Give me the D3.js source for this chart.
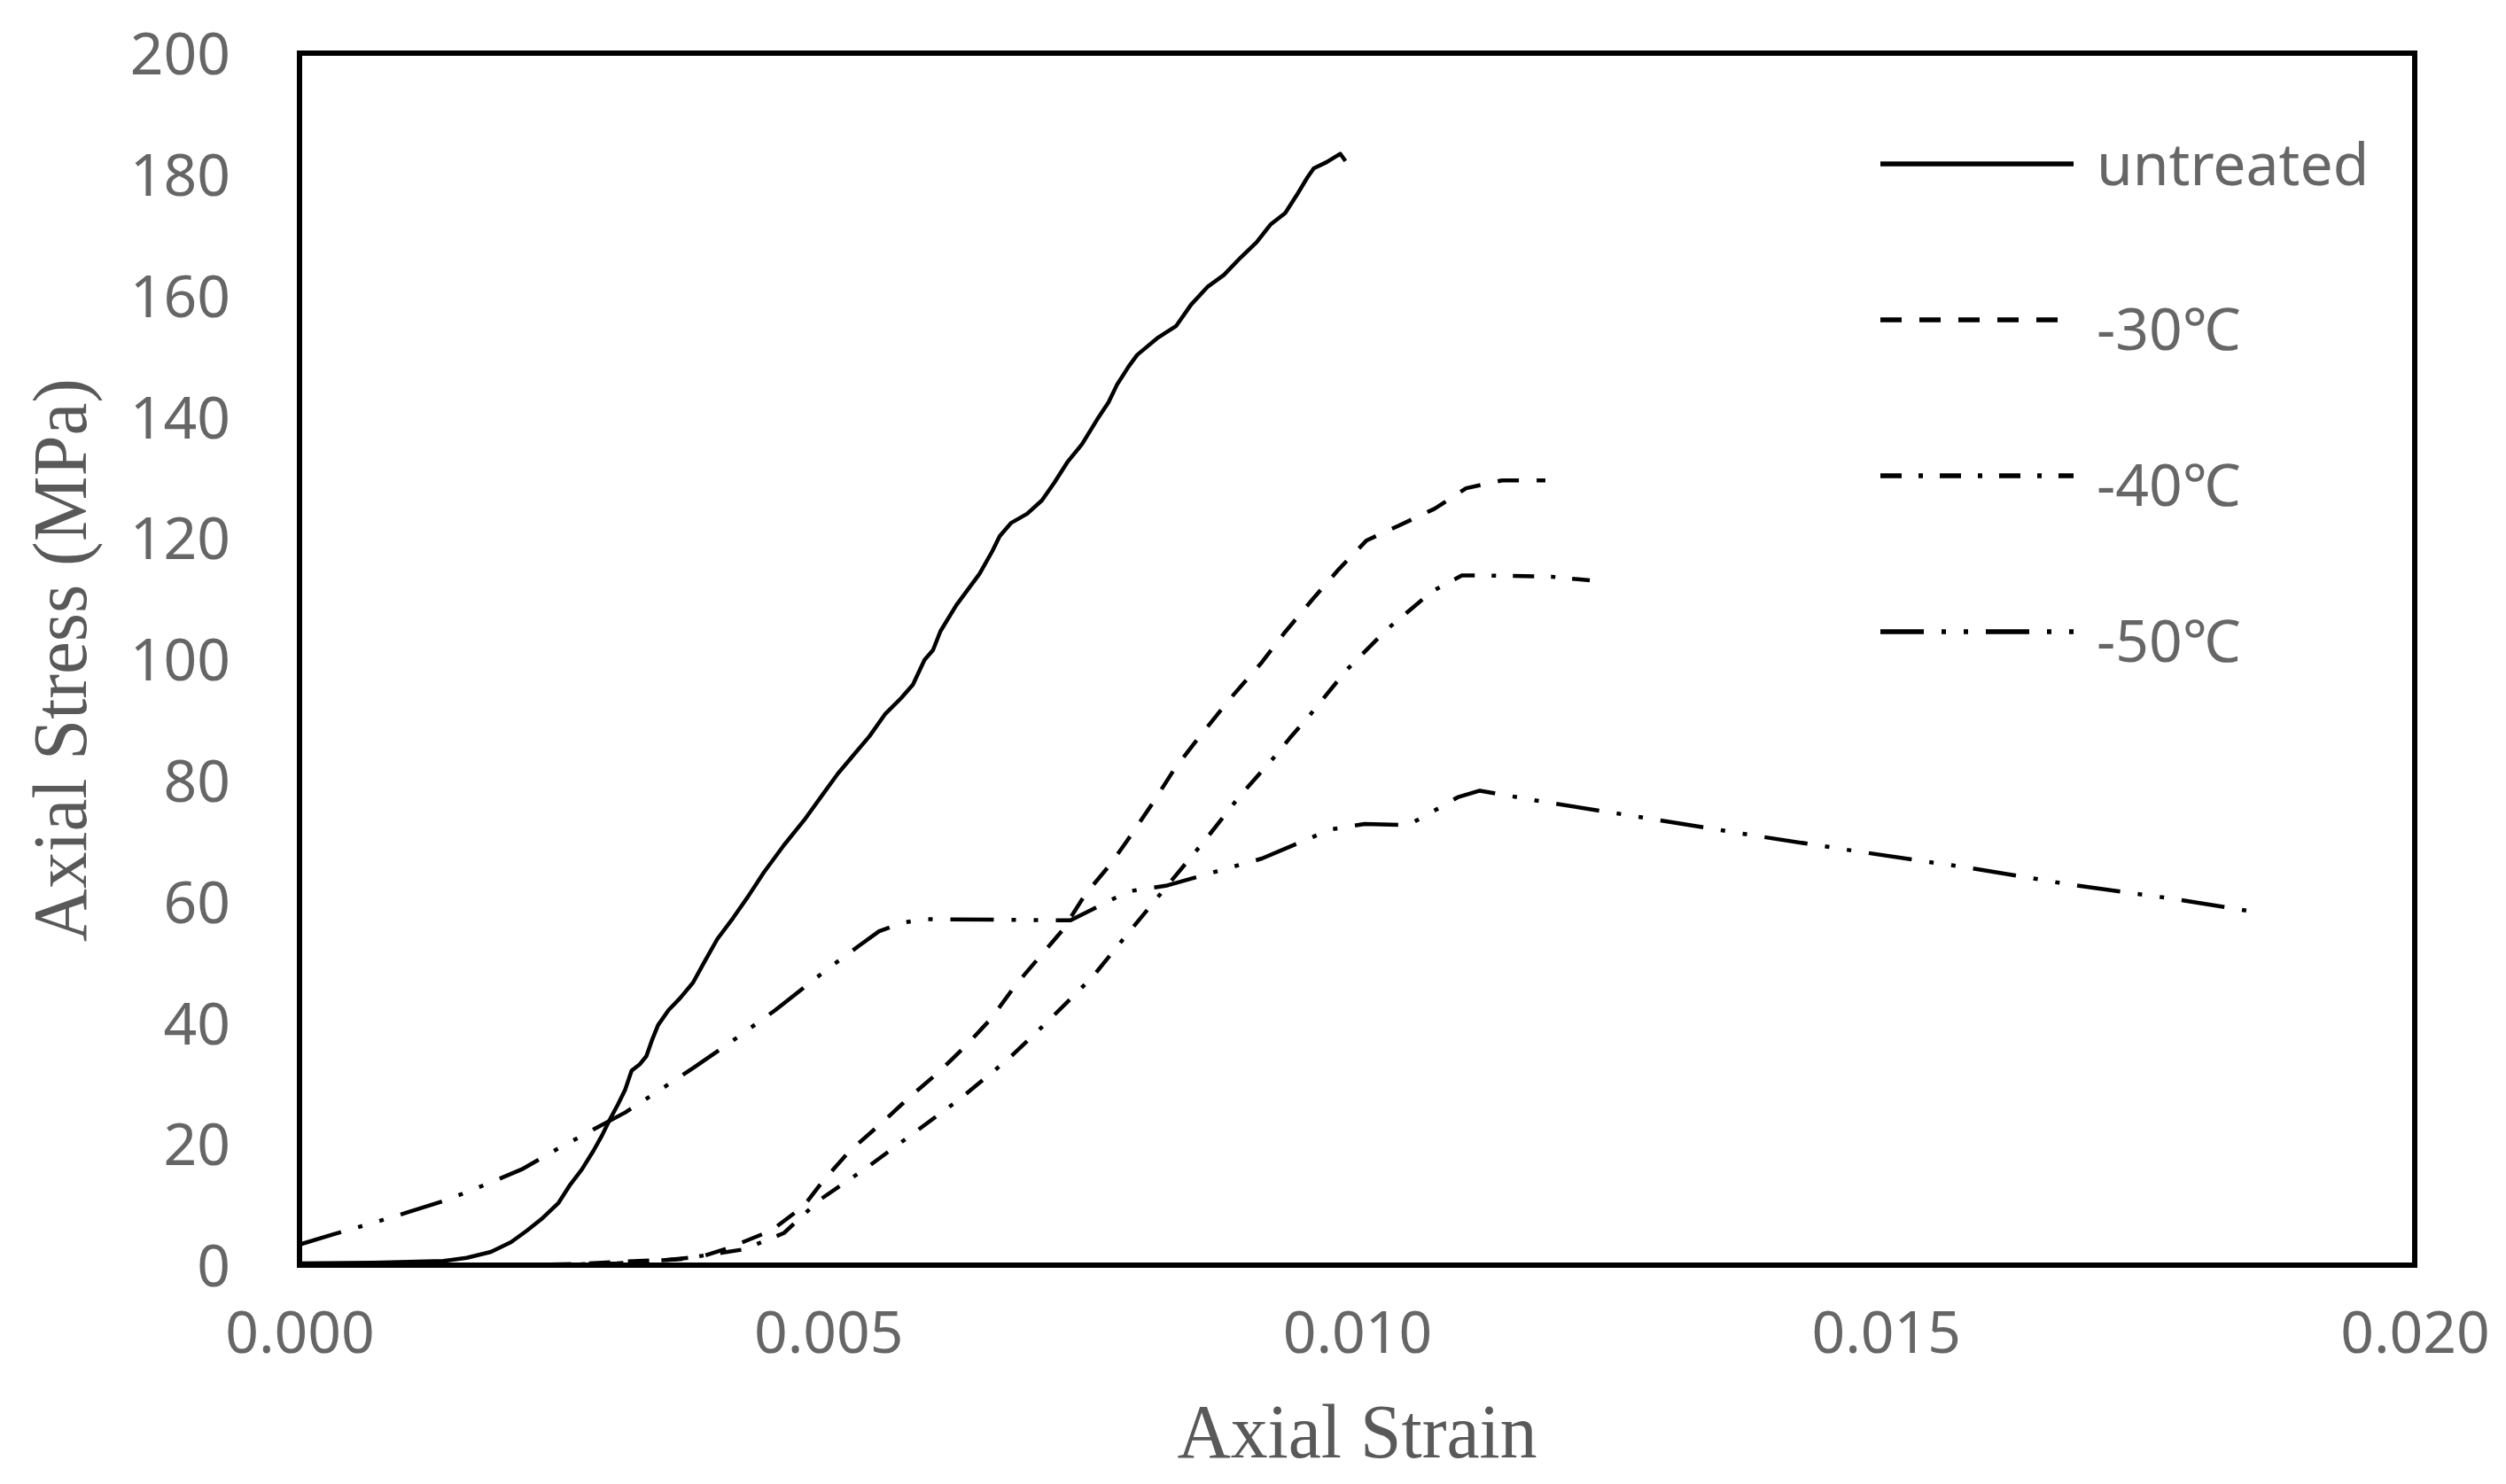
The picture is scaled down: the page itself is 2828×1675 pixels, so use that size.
<!DOCTYPE html>
<html>
<head>
<meta charset="utf-8">
<script src="https://cdn.jsdelivr.net/npm/d3@7/dist/d3.min.js"></script>
<style>
  body { margin: 0; background: #fff; }
</style>
</head>
<body>
<div id="chart"></div>
<script>
/*Data: [axial strain, axial stress MPa]*/
const untreated = [
	[0, 0.3], [0.0007, 0.4], [0.00136, 0.7], [0.00158, 1.2], [0.00181, 2.2], [0.002, 3.8],
	[0.00215, 5.7], [0.0023, 7.8], [0.00245, 10.3], [0.00256, 13.3], [0.00267, 15.8],
	[0.00278, 18.9], [0.00286, 21.4], [0.00293, 23.9], [0.00301, 26.5], [0.00308, 29],
	[0.00314, 32.1], [0.00322, 33.2], [0.00328, 34.5], [0.00333, 37], [0.00339, 39.6],
	[0.00349, 42.1], [0.0036, 44.1], [0.00372, 46.6], [0.00383, 50.1], [0.00395, 53.8],
	[0.0041, 57.3], [0.00424, 60.8], [0.00439, 64.8], [0.00458, 69.3], [0.00477, 73.4],
	[0.00494, 77.5], [0.00509, 81.1], [0.00524, 84.2], [0.00539, 87.3], [0.00554, 91],
	[0.00569, 93.6], [0.0058, 95.8], [0.00591, 99.9], [0.00599, 101.5], [0.00606, 104.6],
	[0.00621, 108.9], [0.00632, 111.5], [0.00643, 114.1], [0.00655, 117.8], [0.00662, 120.3],
	[0.00673, 122.5], [0.00688, 124], [0.00702, 126.2], [0.00714, 129.2], [0.00726, 132.5],
	[0.0074, 135.5], [0.00754, 139.5], [0.00765, 142.4], [0.00773, 145.3], [0.00784, 148.3],
	[0.00792, 150.2], [0.00812, 153.1], [0.00829, 155], [0.00843, 158.5], [0.00859, 161.5],
	[0.00874, 163.4], [0.0089, 166.3], [0.00905, 168.8], [0.00918, 171.7], [0.00932, 173.6],
	[0.00943, 176.6], [0.00953, 179.5], [0.00959, 181], [0.00971, 182], [0.00984, 183.4],
	[0.00989, 182.2]
];

const minus30 = [
	[0.002, 0], [0.0026, 0.2], [0.0031, 0.6], [0.0035, 0.9], [0.0038, 1.4], [0.00405, 2.8],
	[0.00446, 5.7], [0.00477, 9.8], [0.00495, 13.9], [0.0052, 18.8], [0.00552, 23.7],
	[0.00576, 27.6], [0.00604, 31.8], [0.0063, 36.2], [0.00654, 40.7], [0.00677, 46.2],
	[0.00698, 50.5], [0.00722, 55.4], [0.00743, 61.2], [0.00767, 66.2], [0.00788, 71.4],
	[0.00808, 76.6], [0.00827, 81.8], [0.0085, 87], [0.0088, 93.5], [0.0091, 99.5],
	[0.00932, 104.5], [0.00958, 109.9], [0.00983, 114.9], [0.01009, 119.6], [0.01039, 122],
	[0.01073, 124.8], [0.01103, 128.2], [0.01137, 129.5], [0.01178, 129.5]
];

const minus40 = [
	[0.0023, 0], [0.003, 0.3], [0.0036, 1], [0.0042, 2.6], [0.00458, 5.3], [0.00492, 10.8],
	[0.00534, 15.8], [0.0058, 21.7], [0.00625, 27.5], [0.0067, 34], [0.00708, 40.3],
	[0.0075, 47.6], [0.00784, 54.9], [0.00819, 62.3], [0.00857, 70.3], [0.00889, 77.4],
	[0.0092, 83.5], [0.00936, 86.9], [0.00954, 90.5], [0.0099, 98.2], [0.01028, 104.9],
	[0.01071, 111.2], [0.01099, 113.8], [0.01125, 113.8], [0.01184, 113.6], [0.0122, 113]
];

const minus50 = [
	[0, 3.4], [0.0003, 5], [0.0007, 7], [0.001, 8.6], [0.0014, 10.8], [0.0018, 13.6],
	[0.0021, 15.8], [0.00241, 18.9], [0.00278, 22.4], [0.00308, 25.2], [0.00346, 29.5],
	[0.00372, 32.5], [0.0041, 37.1], [0.0045, 42.1], [0.00487, 47.2], [0.00508, 50],
	[0.00529, 52.7], [0.00548, 55.1], [0.0057, 56.5], [0.0059, 57.1], [0.00729, 56.9],
	[0.00784, 61.7], [0.00819, 62.6], [0.0091, 67.1], [0.00975, 71.9], [0.01007, 72.8],
	[0.01048, 72.6], [0.01069, 74.6], [0.01095, 77.2], [0.01116, 78.3], [0.01175, 76.5],
	[0.01276, 73.7], [0.01379, 70.8], [0.0148, 68.1], [0.01581, 65.5], [0.01678, 62.7],
	[0.01774, 60.4], [0.01848, 58.3]
];

const seriesNames = ['untreated', '-30\u2103', '-40\u2103', '-50\u2103'];
const seriesData = [untreated, minus30, minus40, minus50];

const xTicks = [0, 0.005, 0.010, 0.015, 0.020];
const yTicks = [0, 20, 40, 60, 80, 100, 120, 140, 160, 180, 200];
const xTitle = 'Axial Strain';
const yTitle = 'Axial Stress (MPa)';

/////////////////////////////////////////////////////////////////////////////
//STYLING
const W = 2828, H = 1675;
const frame = { left: 338, right: 2725, top: 60, bottom: 1428 };
const dashes = ['none', '24,20', '24,19,5,19', '49,20,5,20,5,20'];
const tickFont = { family: '"Noto Sans", "Noto Sans CJK SC", sans-serif', size: 66, color: '#666' };
const titleFont = { family: '"Liberation Serif", "Times New Roman", serif', size: 86, color: '#595959' };

const svg = d3.select('#chart').append('svg')
	.attr('width', W)
	.attr('height', H)
	.attr('viewBox', `0 0 ${W} ${H}`)
	.style('background-color', '#fff');

const x = d3.scaleLinear().domain([0, 0.02]).range([frame.left, frame.right]);
const y = d3.scaleLinear().domain([0, 200]).range([frame.bottom, frame.top]);

//axes: labels only, no tick marks
const xAxis = svg.append('g')
	.attr('transform', `translate(0,${frame.bottom})`)
	.call(d3.axisBottom(x).tickValues(xTicks).tickFormat(d3.format('.3f')).tickSize(0));
xAxis.select('.domain').remove();
xAxis.selectAll('text')
	.attr('y', 99)
	.attr('dy', 0)
	.style('font-family', tickFont.family)
	.style('font-size', tickFont.size + 'px')
	.style('fill', tickFont.color);

const yAxis = svg.append('g')
	.attr('transform', `translate(${frame.left},0)`)
	.call(d3.axisLeft(y).tickValues(yTicks).tickFormat(d3.format('d')).tickSize(0));
yAxis.select('.domain').remove();
yAxis.selectAll('text')
	.attr('x', -78)
	.attr('dy', '0.36em')
	.style('font-family', tickFont.family)
	.style('font-size', tickFont.size + 'px')
	.style('fill', tickFont.color);

//curves
const line = d3.line()
	.x(d => x(d[0]))
	.y(d => y(d[1]));

svg.append('g')
	.selectAll('path')
	.data(seriesData)
	.join('path')
	.attr('d', line)
	.attr('fill', 'none')
	.attr('stroke', '#000')
	.attr('stroke-width', 4.5)
	.attr('stroke-linejoin', 'round')
	.attr('stroke-dasharray', (d, i) => dashes[i]);

//plot frame
svg.append('rect')
	.attr('x', frame.left)
	.attr('y', frame.top)
	.attr('width', frame.right - frame.left)
	.attr('height', frame.bottom - frame.top)
	.attr('fill', 'none')
	.attr('stroke', '#000')
	.attr('stroke-width', 6);

//legend
const legend = svg.append('g').attr('transform', 'translate(2122,185)');
const rows = legend.selectAll('g')
	.data(seriesNames)
	.join('g')
	.attr('transform', (d, i) => `translate(0,${i * 176})`);

rows.append('line')
	.attr('x1', 0)
	.attr('x2', 218)
	.attr('stroke', '#000')
	.attr('stroke-width', 5.5)
	.attr('stroke-dasharray', (d, i) => dashes[i]);

rows.append('text')
	.attr('x', 244)
	.attr('y', (d, i) => i === 0 ? 24 : 34)
	.text(d => d)
	.style('font-family', tickFont.family)
	.style('font-size', tickFont.size + 'px')
	.style('fill', tickFont.color);

//axis titles
svg.append('text')
	.attr('x', (frame.left + frame.right) / 2)
	.attr('y', 1645)
	.attr('text-anchor', 'middle')
	.attr('textLength', 406)
	.attr('lengthAdjust', 'spacingAndGlyphs')
	.style('font-family', titleFont.family)
	.style('font-size', titleFont.size + 'px')
	.style('fill', titleFont.color)
	.text(xTitle);

svg.append('text')
	.attr('transform', 'translate(97,745) rotate(-90)')
	.attr('text-anchor', 'middle')
	.attr('textLength', 636)
	.attr('lengthAdjust', 'spacingAndGlyphs')
	.style('font-family', titleFont.family)
	.style('font-size', titleFont.size + 'px')
	.style('fill', titleFont.color)
	.text(yTitle);
</script>
</body>
</html>
